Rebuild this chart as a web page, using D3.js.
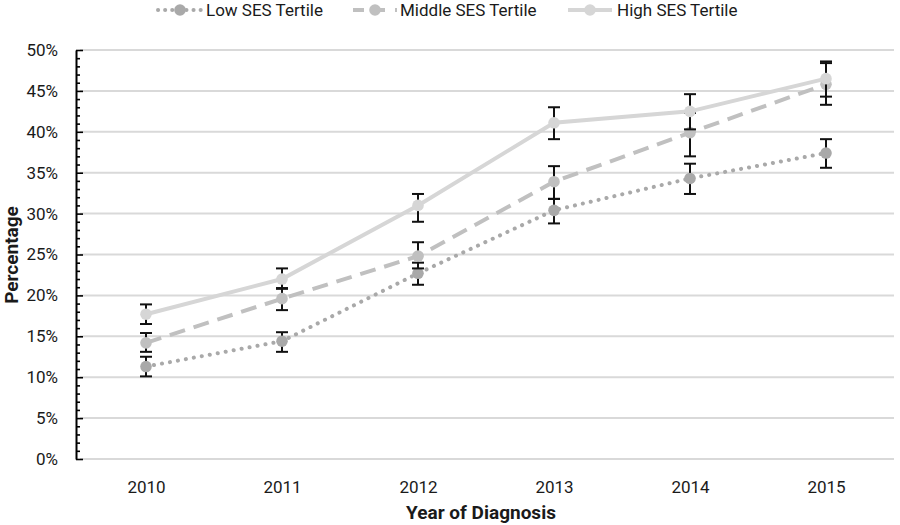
<!DOCTYPE html>
<html>
<head>
<meta charset="utf-8">
<script src="https://cdn.jsdelivr.net/npm/d3@7"></script>
<style>
  body { margin: 0; background: #fff; }
  svg { display: block; font-family: "Roboto", sans-serif; }
</style>
</head>
<body>
<svg id="chart" width="900" height="525"></svg>
<script>
const years = ["2010", "2011", "2012", "2013", "2014", "2015"];
const yTicks = [0, 5, 10, 15, 20, 25, 30, 35, 40, 45, 50];

const lowVals  = [11.3, 14.4, 22.7, 30.4, 34.3, 37.4];
const lowLo    = [10.1, 13.1, 21.3, 28.8, 32.4, 35.6];
const lowHi    = [12.5, 15.5, 24.0, 31.8, 36.1, 39.1];

const midVals  = [14.2, 19.6, 24.8, 33.9, 39.9, 45.8];
const midLo    = [13.1, 18.2, 23.3, 31.8, 37.0, 44.3];
const midHi    = [15.4, 20.9, 26.5, 35.8, 42.3, 48.4];

const highVals = [17.7, 22.0, 31.0, 41.1, 42.5, 46.5];
const highLo   = [16.5, 20.8, 29.0, 39.1, 40.3, 43.3];
const highHi   = [18.9, 23.3, 32.4, 43.0, 44.6, 48.6];

const seriesNames = ["Low SES Tertile", "Middle SES Tertile", "High SES Tertile"];

const series = [
  { name: seriesNames[0], vals: lowVals, lo: lowLo, hi: lowHi, color: "#a9a9a9", dash: "0.1 8", cap: "round" },
  { name: seriesNames[1], vals: midVals, lo: midLo, hi: midHi, color: "#c0c0c0", dash: "16 9", cap: "butt" },
  { name: seriesNames[2], vals: highVals, lo: highLo, hi: highHi, color: "#d6d6d6", dash: null, cap: "butt" }
];

const svg = d3.select("#chart");
const pLeft = 78, pRight = 894, pTop = 50, pBottom = 459;

const x = d3.scalePoint().domain(years).range([pLeft, pRight]).padding(0.5);
const y = d3.scaleLinear().domain([0, 50]).range([pBottom, pTop]);

// gridlines
svg.append("g").selectAll("line").data(yTicks).join("line")
  .attr("x1", pLeft + 2).attr("x2", pRight)
  .attr("y1", d => y(d)).attr("y2", d => y(d))
  .attr("stroke", "#d9d9d9").attr("stroke-width", 2);

// y axis
const yAxis = svg.append("g").attr("transform", `translate(${pLeft - 2},0)`)
  .call(d3.axisRight(y).tickValues(d3.range(0, 51, 1)).tickSize(4).tickFormat("").tickSizeOuter(0));
yAxis.select(".domain").attr("stroke", "#000").attr("stroke-width", 2);
yAxis.selectAll(".tick line").attr("stroke", "#000").attr("stroke-width", 1.6)
  .attr("x2", d => d % 5 === 0 ? 7 : 4);

svg.append("g").selectAll("text").data(yTicks).join("text")
  .attr("x", 58).attr("y", d => y(d)).attr("dy", "0.35em")
  .attr("text-anchor", "end").attr("font-size", 17).attr("fill", "#1a1a1a")
  .text(d => d + "%");

// x labels
const xAxis = svg.append("g").attr("transform", `translate(0,${pBottom})`)
  .call(d3.axisBottom(x).tickSize(0).tickPadding(22));
xAxis.select(".domain").remove();
xAxis.selectAll("text").attr("font-size", 17).attr("fill", "#1a1a1a")
  .style("font-family", "Roboto, sans-serif");

// axis titles
svg.append("text").attr("x", (pLeft + pRight) / 2 - 5).attr("y", 519)
  .attr("text-anchor", "middle").attr("font-size", 19).attr("font-weight", "bold").attr("fill", "#1a1a1a")
  .text("Year of Diagnosis");
svg.append("text").attr("transform", `translate(18,255) rotate(-90)`)
  .attr("text-anchor", "middle").attr("font-size", 19).attr("font-weight", "bold").attr("fill", "#1a1a1a")
  .text("Percentage");

// lines, error bars, markers
series.forEach(s => {
  const g = svg.append("g");
  const line = d3.line().x((d, i) => x(years[i])).y(d => y(d));
  g.append("path").datum(s.vals).attr("d", line)
    .attr("fill", "none").attr("stroke", s.color).attr("stroke-width", 4)
    .attr("stroke-dasharray", s.dash).attr("stroke-linecap", s.cap);
  const eb = g.append("g").selectAll("g").data(years).join("g");
  eb.append("line").attr("x1", d => x(d)).attr("x2", d => x(d))
    .attr("y1", (d, i) => y(s.lo[i])).attr("y2", (d, i) => y(s.hi[i]))
    .attr("stroke", "#111").attr("stroke-width", 2);
  eb.append("line").attr("x1", d => x(d) - 6).attr("x2", d => x(d) + 6)
    .attr("y1", (d, i) => y(s.lo[i])).attr("y2", (d, i) => y(s.lo[i]))
    .attr("stroke", "#111").attr("stroke-width", 2);
  eb.append("line").attr("x1", d => x(d) - 6).attr("x2", d => x(d) + 6)
    .attr("y1", (d, i) => y(s.hi[i])).attr("y2", (d, i) => y(s.hi[i]))
    .attr("stroke", "#111").attr("stroke-width", 2);
  g.append("g").selectAll("circle").data(s.vals).join("circle")
    .attr("cx", (d, i) => x(years[i])).attr("cy", d => y(d)).attr("r", 5.8)
    .attr("fill", s.color);
});

// legend
const legendPos = [{ x0: 158, tx: 206 }, { x0: 353, tx: 400 }, { x0: 568, tx: 617 }];
const legend = svg.append("g").selectAll("g").data(series).join("g")
  .attr("transform", (d, i) => `translate(${legendPos[i].x0},10)`);
legend.append("line").attr("x1", 0).attr("x2", 44).attr("y1", 0).attr("y2", 0)
  .attr("stroke", d => d.color).attr("stroke-width", 4)
  .attr("stroke-dasharray", d => d.dash ? (d.cap === "round" ? "0.1 7" : "11 10") : null)
  .attr("stroke-linecap", d => d.cap);
legend.append("circle").attr("cx", 22).attr("cy", 0).attr("r", 5.8).attr("fill", d => d.color);
legend.append("text").attr("x", (d, i) => legendPos[i].tx - legendPos[i].x0).attr("y", 0).attr("dy", "0.35em")
  .attr("font-size", 17).attr("fill", "#1a1a1a").text(d => d.name);
</script>
</body>
</html>
